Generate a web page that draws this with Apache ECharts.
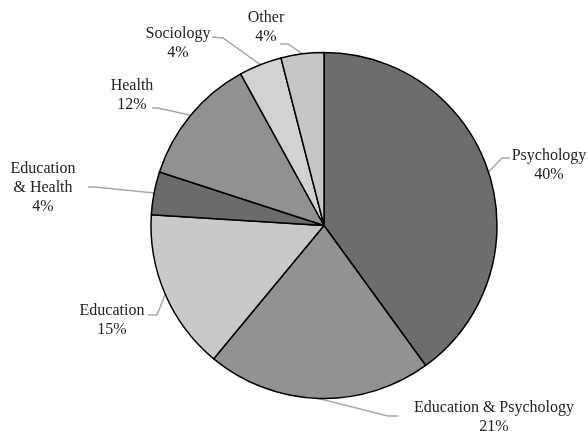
<!DOCTYPE html>
<html>
<head>
<meta charset="utf-8">
<script src="https://cdn.jsdelivr.net/npm/echarts@6/dist/echarts.min.js"></script>
<style>
  html, body { margin: 0; padding: 0; background: #ffffff; }
  #chart { width: 588px; height: 431px; }
</style>
</head>
<body>
<div id="chart"></div>
<script>
// Share of studies by discipline (percent)
const categories = [
  'Psychology',
  'Education & Psychology',
  'Education',
  'Education & Health',
  'Health',
  'Sociology',
  'Other'
];
const shares = [40, 21, 15, 4, 12, 4, 4];

// Greyscale fill for each slice, in category order
const sliceColors = ['#6d6d6d', '#929292', '#c9c9c9', '#6b6b6b', '#919191', '#d2d2d2', '#c6c6c6'];

// Placement of each label: centre of the text block, bend and end of its leader line
const labelPlacement = [
  { cx: 549, cy: 165, bend: [502, 158], end: [510, 158] },
  { cx: 494, cy: 417, bend: [388, 416], end: [398, 416] },
  { cx: 112, cy: 320, bend: [157, 315], end: [148, 315] },
  { cx: 43,  cy: 188, bend: [95, 187],  end: [88, 187], wrap: true },
  { cx: 132, cy: 95,  bend: [158, 108], end: [152, 108] },
  { cx: 178, cy: 43,  bend: [223, 38],  end: [212, 37] },
  { cx: 266, cy: 27,  bend: [288, 44],  end: [280, 44] }
];

const chart = echarts.init(document.getElementById('chart'), null, { renderer: 'canvas' });

chart.setOption({
  animation: false,
  backgroundColor: '#ffffff',
  series: [{
    type: 'pie',
    center: [324, 225.5],
    radius: 173,
    startAngle: 90,
    clockwise: true,
    avoidLabelOverlap: false,
    data: categories.map((name, i) => ({
      name: name,
      value: shares[i],
      itemStyle: { color: sliceColors[i] }
    })),
    itemStyle: {
      borderColor: '#000000',
      borderWidth: 1.5
    },
    label: {
      show: true,
      position: 'outside',
      fontFamily: '"Liberation Serif", "Times New Roman", serif',
      fontSize: 16,
      lineHeight: 19,
      color: '#222222',
      align: 'center',
      formatter: function (p) {
        const place = labelPlacement[p.dataIndex];
        const name = place.wrap ? p.name.replace(' & ', '\n& ') : p.name;
        return name + '\n' + p.value + '%';
      }
    },
    labelLine: {
      show: true,
      length: 10,
      length2: 10,
      lineStyle: { color: '#a8a8a8', width: 1.5 }
    },
    labelLayout: function (params) {
      const place = labelPlacement[params.dataIndex];
      const start = params.labelLinePoints ? params.labelLinePoints[0] : place.bend;
      return {
        x: place.cx,
        y: place.cy,
        align: 'center',
        verticalAlign: 'middle',
        labelLinePoints: [start, place.bend, place.end]
      };
    },
    emphasis: { disabled: true }
  }]
});
</script>
</body>
</html>
